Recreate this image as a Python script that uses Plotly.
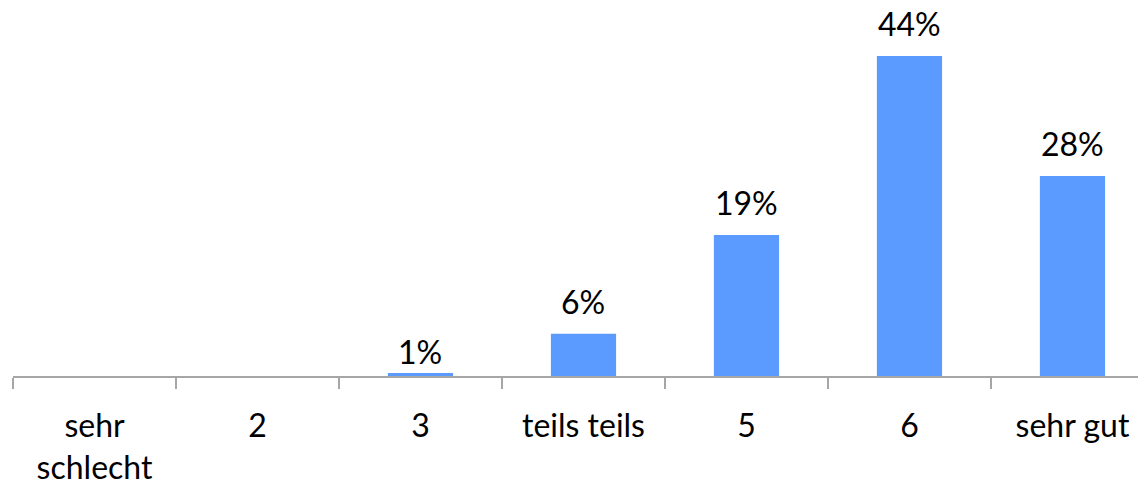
import plotly.graph_objects as go

categories = ["sehr<br>schlecht", "2", "3", "teils teils", "5", "6", "sehr gut"]
values = [0.0, 0.0, 0.4, 5.8, 19.4, 44.0, 27.5]
labels = ["", "", "1%", "6%", "19%", "44%", "28%"]

FONT = "Lato"
BAR = "#5B9BFF"
AXIS = "#A6A6A6"
FS = 32

fig = go.Figure()
fig.add_trace(go.Bar(
    x=categories, y=values, width=0.4,
    marker=dict(color=BAR, line=dict(width=0)),
    hoverinfo="skip",
))

for i, (v, t) in enumerate(zip(values, labels)):
    if not t:
        continue
    shift = 0 if v < 1 else 11
    fig.add_annotation(x=i, y=v, xref="x", yref="y", text=t, showarrow=False,
                       yanchor="bottom", yshift=shift,
                       font=dict(family=FONT, size=FS, color="#000000"))

fig.update_layout(
    width=1138, height=483,
    margin=dict(l=13, r=0, t=0, b=107, autoexpand=False),
    paper_bgcolor="white", plot_bgcolor="white",
    showlegend=False,
    font=dict(family=FONT, size=FS, color="#000000"),
)
fig.update_xaxes(
    type="category", range=[-0.5, 6.402], automargin=False,
    showline=True, linecolor=AXIS, linewidth=2,
    ticks="outside", ticklen=11, tickwidth=2, tickcolor=AXIS,
    tickson="boundaries", showgrid=False, zeroline=False,
    ticklabelstandoff=21,
    tickfont=dict(family=FONT, size=FS, color="#000000"),
)
fig.update_yaxes(range=[0, 51.7], visible=False, showgrid=False, zeroline=False,
                 automargin=False)

fig.write_html("out.html",
               config={"displayModeBar": False},
               post_script="document.body.style.margin='0';document.body.style.overflow='hidden';")
